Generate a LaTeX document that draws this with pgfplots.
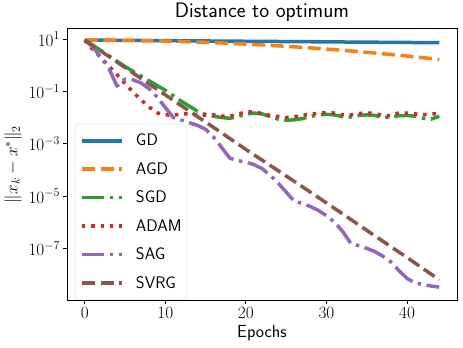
\documentclass[border=0pt]{standalone}
\usepackage{fontspec}
\usepackage{pgfplots}
\pgfplotsset{compat=1.18}
\definecolor{C0}{HTML}{1F77B4}
\definecolor{C1}{HTML}{FF7F0E}
\definecolor{C2}{HTML}{2CA02C}
\definecolor{C3}{HTML}{D62728}
\definecolor{C4}{HTML}{9467BD}
\definecolor{C5}{HTML}{8C564B}
\begin{document}
\begin{tikzpicture}
\useasboundingbox (-67bp,-47.3bp) rectangle (396bp,300.7bp);
\begin{axis}[
  scale only axis, width=390bp, height=272.4bp,
  ymode=log, xmin=-2.2, xmax=46.2, ymin=1e-9, ymax=25.7,
  xtick={0,10,20,30,40},
  ytick={1e1,1e-1,1e-3,1e-5,1e-7},
  yticklabels={$10^{1}$,$10^{-1}$,$10^{-3}$,$10^{-5}$,$10^{-7}$},
  minor ytick={}, 
  tick align=outside, major tick length=3.5bp,
  xtick pos=bottom, ytick pos=left,
  tick style={black, line width=0.8bp},
  axis line style={black, line width=0.8bp},
  ticklabel style={font=\fontsize{17.28pt}{20pt}\selectfont},
  title={Distance to optimum},
  title style={font=\sffamily\fontsize{21bp}{25bp}\selectfont, yshift=-2.5bp},
  xlabel={Epochs},
  xlabel style={font=\sffamily\fontsize{17.5bp}{20bp}\selectfont},
  ylabel={$\|x_k-x^*\|_2$},
  ylabel style={font=\fontsize{17.28pt}{20pt}\selectfont},
  legend style={at={(0.0205,0.6487)}, anchor=north west,
    draw=black!15, rounded corners=3bp, fill=white,
    font=\sffamily\fontsize{16.8bp}{20bp}\selectfont,
    nodes={inner sep=0pt},
    inner xsep=5bp, inner ysep=10bp, row sep=15.15bp,
    /tikz/every odd column/.append style={column sep=12.3bp}},
  legend cell align=left,
  legend image code/.code={\draw[#1] (0bp,0bp) -- (40bp,0bp);},
  every axis plot/.append style={line width=3.5bp, line join=round},
]
\addplot[C0] coordinates {(0,9.12) (11,8.61) (22,8.13) (33,7.67) (44,7.24)};
\addlegendentry{GD}
\addplot[C1, dash pattern=on 13bp off 5.6bp] coordinates {
(0,9.12) (2,9.08) (4,8.99) (6,8.83) (8,8.63) (10,8.36) (12,8.04) (14,7.67)
(16,7.28) (18,6.85) (20,6.41) (22,5.96) (24,5.50) (26,5.04) (28,4.57)
(30,4.13) (32,3.71) (34,3.30) (36,2.92) (38,2.56) (40,2.23) (42,1.93) (44,1.66)};
\addlegendentry{AGD}
\addplot[C2, dash pattern=on 22.4bp off 5.6bp on 3.5bp off 5.6bp] coordinates {
(0,9.12) (1,5.754) (2,3.631) (3,2.291) (4,1.413) (5,0.8913) (6,0.5754) (7,0.3802)
(8,0.2512) (9,0.166) (10,0.1096) (11,0.0676) (12,4.169e-2) (13,2.692e-2)
(14,1.738e-2) (15,1.318e-2) (16,1.122e-2) (17,1.0e-2) (18,9.333e-3)
(19,1.096e-2) (20,1.349e-2) (21,1.479e-2) (22,1.38e-2) (23,1.096e-2)
(24,8.71e-3) (25,7.943e-3) (26,8.128e-3) (27,9.12e-3) (28,1.096e-2)
(29,1.259e-2) (30,1.318e-2) (31,1.259e-2) (32,1.072e-2) (33,1.047e-2)
(34,1.202e-2) (35,1.259e-2) (36,1.202e-2) (37,1e-2) (38,1.047e-2)
(39,1.175e-2) (40,1.202e-2) (41,1.122e-2) (42,9.333e-3) (43,8.71e-3) (44,1.122e-2)};
\addlegendentry{SGD}
\addplot[C3, dash pattern=on 3.5bp off 5.8bp] coordinates {
(0,9.12) (1,3.981) (2,1.995) (3,0.9333) (4,0.4365) (5,0.1995) (6,9.333e-2)
(7,4.677e-2) (8,2.512e-2) (9,1.514e-2) (10,1.259e-2) (11,1.23e-2) (12,1.38e-2)
(13,1.38e-2) (14,1.259e-2) (15,1.23e-2) (16,1.259e-2) (17,1.122e-2) (18,1.122e-2)
(19,1.349e-2) (20,1.622e-2) (21,1.66e-2) (22,1.413e-2) (23,1.202e-2)
(24,1.096e-2) (25,1e-2) (26,1.072e-2) (27,1.202e-2) (28,1.349e-2) (29,1.445e-2)
(30,1.549e-2) (31,1.479e-2) (32,1.259e-2) (33,1.259e-2) (34,1.413e-2)
(35,1.514e-2) (36,1.413e-2) (37,1.202e-2) (38,1.175e-2) (39,1.514e-2)
(40,1.479e-2) (41,1.38e-2) (42,1.288e-2) (43,1.349e-2) (44,1.445e-2)};
\addlegendentry{ADAM}
\addplot[C4, dash pattern=on 22.4bp off 5.6bp on 3.5bp off 5.6bp] coordinates {
(0,9.12) (1,5.01) (2,2.0) (3,0.759) (4,0.1585) (5,0.295) (6,0.275) (7,0.209)
(8,0.1259) (9,6.026e-2) (10,2.399e-2) (11,1e-2) (12,7.943e-3) (13,6.31e-3)
(14,5.012e-3) (15,3.548e-3) (16,1.778e-3) (17,7.079e-4) (18,2.818e-4)
(19,2.239e-4) (20,1.995e-4) (21,1.585e-4) (22,1.122e-4) (23,6.31e-5)
(24,3.162e-5) (25,1.413e-5) (26,6.31e-6) (27,5.248e-6) (28,3.981e-6)
(29,2.818e-6) (30,1.778e-6) (31,1e-6) (32,4.467e-7) (33,1.585e-7)
(34,1.259e-7) (35,1e-7) (36,7.586e-8) (37,5.012e-8) (38,3.02e-8)
(39,1.413e-8) (40,7.079e-9) (41,4.786e-9) (42,4.169e-9) (43,3.631e-9) (44,3.311e-9)};
\addlegendentry{SAG}
\addplot[C5, dash pattern=on 13bp off 5.6bp] coordinates {
(0,9.12) (4,1.318) (8,0.1905) (12,2.818e-2) (16,4.169e-3) (20,6.026e-4)
(24,9.333e-5) (28,1.413e-5) (32,2.089e-6) (36,3.02e-7) (40,4.467e-8) (44,6.31e-9)};
\addlegendentry{SVRG}
\end{axis}
\end{tikzpicture}
\end{document}
